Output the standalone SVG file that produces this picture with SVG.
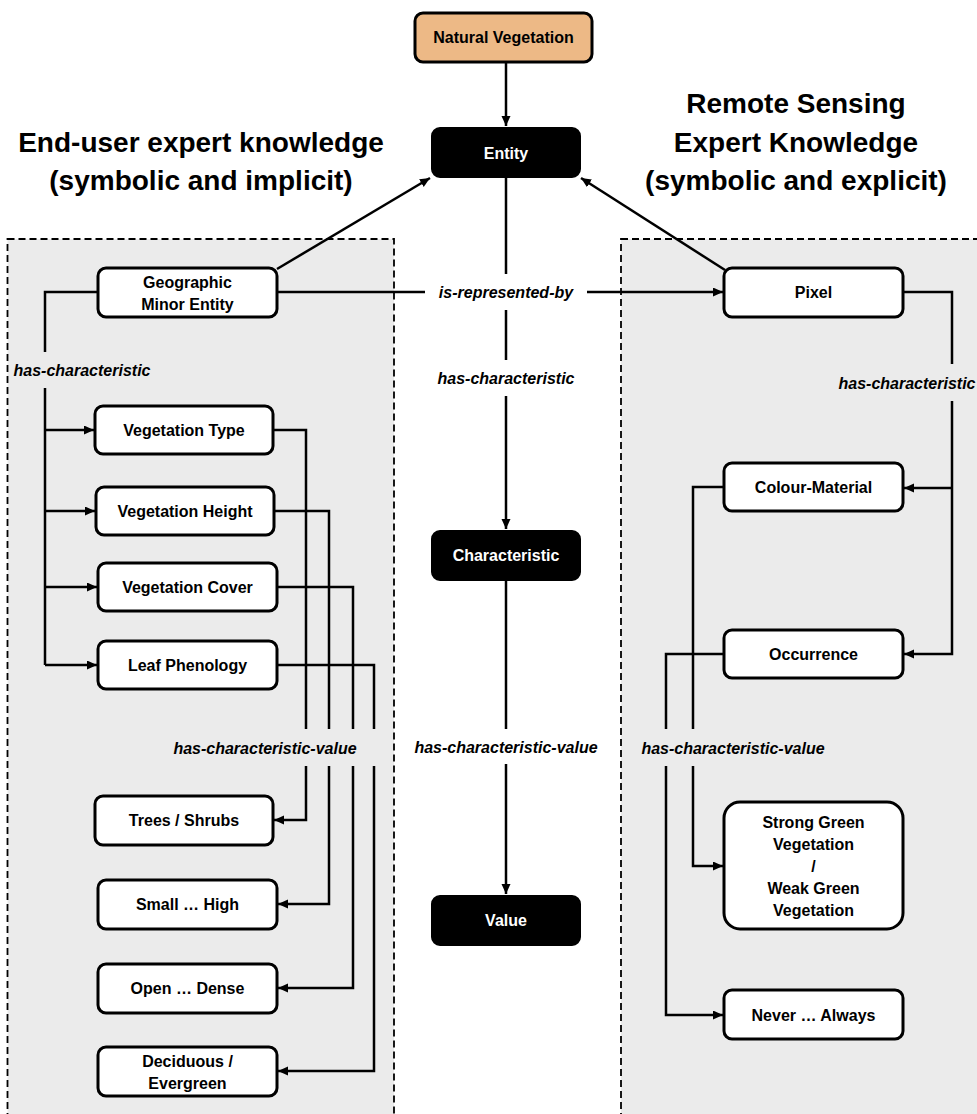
<svg xmlns="http://www.w3.org/2000/svg" width="977" height="1114" viewBox="0 0 977 1114">
<defs>
<style>
.panel{fill:#EBEBEB;stroke:#000;stroke-width:1.8;stroke-dasharray:7 4}
.box{fill:#fff;stroke:#000;stroke-width:3}
.dark{fill:#000;stroke:#000;stroke-width:2}
.nat{fill:#EDB986;stroke:#000;stroke-width:3}
.t{font-family:"Liberation Sans",Arial,sans-serif;font-weight:bold;font-size:16px;text-anchor:middle;fill:#000}
.tw{font-family:"Liberation Sans",Arial,sans-serif;font-weight:bold;font-size:16px;text-anchor:middle;fill:#fff}
.lbl{font-family:"Liberation Sans",Arial,sans-serif;font-weight:bold;font-style:italic;font-size:16px;text-anchor:middle;fill:#000}
.title{font-family:"Liberation Sans",Arial,sans-serif;font-weight:bold;font-size:28px;text-anchor:middle;fill:#000}
.c{fill:none;stroke:#000;stroke-width:2.5}
.a{marker-end:url(#arr)}
</style>
<marker id="arr" markerUnits="userSpaceOnUse" markerWidth="11" markerHeight="10" refX="10" refY="4.5" orient="auto">
<path d="M0,0 L10,4.5 L0,9 z" fill="#000"/>
</marker>
</defs>
<rect width="977" height="1114" fill="#fff"/>
<rect class="panel" x="7.5" y="239" width="386.5" height="890"/>
<rect class="panel" x="621" y="239" width="370" height="890"/>

<g id="titles">
<text class="title" x="201" y="152">End-user expert knowledge</text>
<text class="title" x="201" y="190">(symbolic and implicit)</text>
<text class="title" x="796" y="113">Remote Sensing</text>
<text class="title" x="796" y="152">Expert Knowledge</text>
<text class="title" x="796" y="190">(symbolic and explicit)</text>
</g>

<g id="connectors">
<path class="c a" d="M506,62 V126"/>
<path class="c" d="M506,177 V274 M506,310 V360"/>
<path class="c a" d="M506,396 V529"/>
<path class="c" d="M506,580 V729"/>
<path class="c a" d="M506,764 V894"/>
<path class="c" d="M277,292 H425"/>
<path class="c a" d="M587,292 H723"/>
<path class="c a" d="M277,269 L430,178"/>
<path class="c a" d="M725,270 L581,178"/>
<path class="c" d="M98,292 H45 V352 M45,388 V665"/>
<path class="c a" d="M45,430 H94"/>
<path class="c a" d="M45,511 H95"/>
<path class="c a" d="M45,587 H97"/>
<path class="c a" d="M45,665 H97"/>
<path class="c" d="M273,430 H306 V729"/>
<path class="c a" d="M306,766 V820 H274"/>
<path class="c" d="M274,511 H329 V729"/>
<path class="c a" d="M329,766 V904 H278"/>
<path class="c" d="M277,587 H353 V729"/>
<path class="c a" d="M353,766 V988 H278"/>
<path class="c" d="M277,665 H374 V729"/>
<path class="c a" d="M374,766 V1071 H278"/>
<path class="c" d="M903,292 H952 V364"/>
<path class="c a" d="M952,401 V654 H904"/>
<path class="c a" d="M952,488 H904"/>
<path class="c" d="M724,487 H693 V729"/>
<path class="c a" d="M693,766 V866 H723"/>
<path class="c" d="M724,654 H666 V729"/>
<path class="c a" d="M666,766 V1015 H723"/>
<text class="lbl" x="506" y="298">is-represented-by</text>
<text class="lbl" x="506" y="384">has-characteristic</text>
<text class="lbl" x="506" y="753">has-characteristic-value</text>
<text class="lbl" x="82" y="376">has-characteristic</text>
<text class="lbl" x="265" y="754">has-characteristic-value</text>
<text class="lbl" x="907" y="389">has-characteristic</text>
<text class="lbl" x="733" y="754">has-characteristic-value</text>
</g>

<g id="natural-vegetation"><rect class="nat" x="415" y="13" width="177" height="49" rx="8"/><text class="t" x="503.5" y="43">Natural Vegetation</text></g>
<g id="entity"><rect class="dark" x="432" y="128" width="148" height="49" rx="8"/><text class="tw" x="506" y="159">Entity</text></g>
<g id="characteristic"><rect class="dark" x="432" y="531" width="148" height="49" rx="8"/><text class="tw" x="506" y="561">Characteristic</text></g>
<g id="value"><rect class="dark" x="432" y="896" width="148" height="49" rx="8"/><text class="tw" x="506" y="926">Value</text></g>

<g id="geographic-minor-entity"><rect class="box" x="98" y="268" width="179" height="49" rx="8"/><text class="t" x="187.5" y="288">Geographic</text><text class="t" x="187.5" y="310">Minor Entity</text></g>
<g id="vegetation-type"><rect class="box" x="95" y="406" width="178" height="48" rx="8"/><text class="t" x="184" y="436">Vegetation Type</text></g>
<g id="vegetation-height"><rect class="box" x="96" y="487" width="178" height="48" rx="8"/><text class="t" x="185" y="517">Vegetation Height</text></g>
<g id="vegetation-cover"><rect class="box" x="98" y="563" width="179" height="48" rx="8"/><text class="t" x="187.5" y="593">Vegetation Cover</text></g>
<g id="leaf-phenology"><rect class="box" x="98" y="641" width="179" height="48" rx="8"/><text class="t" x="187.5" y="671">Leaf Phenology</text></g>
<g id="trees-shrubs"><rect class="box" x="95" y="796" width="178" height="49" rx="8"/><text class="t" x="184" y="826">Trees / Shrubs</text></g>
<g id="small-high"><rect class="box" x="98" y="880" width="179" height="49" rx="8"/><text class="t" x="187.5" y="910">Small … High</text></g>
<g id="open-dense"><rect class="box" x="98" y="964" width="179" height="49" rx="8"/><text class="t" x="187.5" y="994">Open … Dense</text></g>
<g id="deciduous-evergreen"><rect class="box" x="98" y="1047" width="179" height="49" rx="8"/><text class="t" x="187.5" y="1067">Deciduous /</text><text class="t" x="187.5" y="1089">Evergreen</text></g>

<g id="pixel"><rect class="box" x="724" y="268" width="179" height="49" rx="8"/><text class="t" x="813.5" y="298">Pixel</text></g>
<g id="colour-material"><rect class="box" x="724" y="463" width="179" height="48" rx="8"/><text class="t" x="813.5" y="493">Colour-Material</text></g>
<g id="occurrence"><rect class="box" x="724" y="630" width="179" height="48" rx="8"/><text class="t" x="813.5" y="660">Occurrence</text></g>
<g id="green-vegetation"><rect class="box" x="724" y="802" width="179" height="127" rx="16"/><text class="t" x="813.5" y="828">Strong Green</text><text class="t" x="813.5" y="850">Vegetation</text><text class="t" x="813.5" y="872">/</text><text class="t" x="813.5" y="894">Weak Green</text><text class="t" x="813.5" y="916">Vegetation</text></g>
<g id="never-always"><rect class="box" x="724" y="990" width="179" height="49" rx="8"/><text class="t" x="813.5" y="1021">Never … Always</text></g>
</svg>
